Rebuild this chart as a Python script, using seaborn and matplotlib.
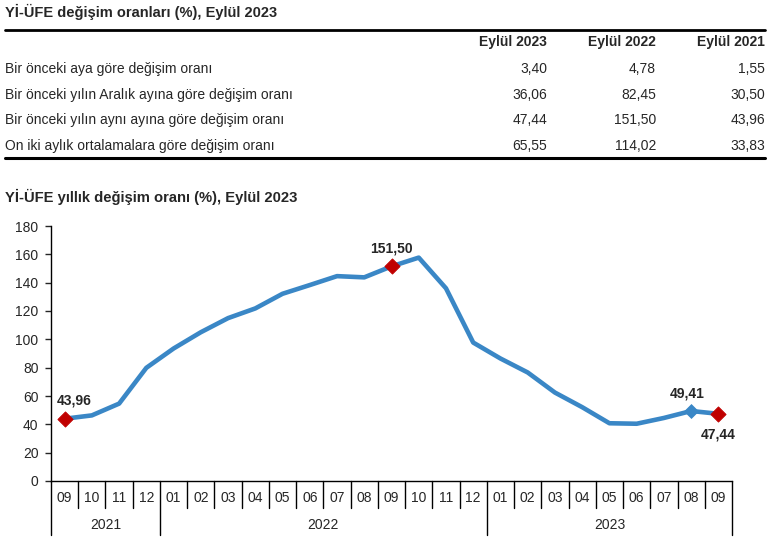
import pandas as pd
import matplotlib.pyplot as plt
from matplotlib.lines import Line2D
from matplotlib.transforms import blended_transform_factory
import seaborn as sns

# ------------------------------
# Data
# ------------------------------
table_cols = ["Eylül 2023", "Eylül 2022", "Eylül 2021"]
table_rows = [
    "Bir önceki aya göre değişim oranı",
    "Bir önceki yılın Aralık ayına göre değişim oranı",
    "Bir önceki yılın aynı ayına göre değişim oranı",
    "On iki aylık ortalamalara göre değişim oranı",
]
table_vals = [
    ["3,40", "4,78", "1,55"],
    ["36,06", "82,45", "30,50"],
    ["47,44", "151,50", "43,96"],
    ["65,55", "114,02", "33,83"],
]

months = ["09", "10", "11", "12",
          "01", "02", "03", "04", "05", "06", "07", "08", "09", "10", "11", "12",
          "01", "02", "03", "04", "05", "06", "07", "08", "09"]
years = ["2021", "2022", "2023"]
year_len = [4, 12, 9]
annual = [43.96, 46.31, 54.62, 79.89,
          93.53, 105.01, 114.97, 121.82, 132.16, 138.31, 144.61, 143.75,
          151.50, 157.69, 136.02, 97.72,
          86.46, 76.61, 62.43, 52.11, 40.76, 40.42, 44.50, 49.41, 47.44]

df = pd.DataFrame({"idx": range(len(annual)), "value": annual})

# ------------------------------
# Style
# ------------------------------
sns.set_style("white")
plt.rcParams["font.family"] = ["Liberation Sans", "DejaVu Sans"]

W, H = 770, 548
fig = plt.figure(figsize=(W / 100, H / 100), dpi=100)


def fx(px):
    return px / W


def fy(py):
    return 1 - py / H


def hline(y, x0, x1, lw, color="black"):
    fig.add_artist(Line2D([fx(x0), fx(x1)], [fy(y), fy(y)], lw=lw, color=color,
                          transform=fig.transFigure))


# ------------------------------
# 1. Table
# ------------------------------
fig.text(fx(5), fy(12), "Yİ-ÜFE değişim oranları (%), Eylül 2023",
         fontsize=10.5, fontweight="bold", va="center", ha="left")
hline(30, 5, 765, 2.0)
col_right = [547, 656, 765]
for c, name in enumerate(table_cols):
    fig.text(fx(col_right[c]), fy(42), name, fontsize=10,
             fontweight="bold", ha="right", va="center")
row_y = [69, 95, 120, 146]
for r, label in enumerate(table_rows):
    fig.text(fx(5), fy(row_y[r]), label, fontsize=10, ha="left", va="center")
    for c in range(3):
        fig.text(fx(col_right[c]), fy(row_y[r]), table_vals[r][c],
                 fontsize=10, ha="right", va="center")
hline(157.5, 5, 765, 2.2)

# ------------------------------
# 2. Line chart
# ------------------------------
fig.text(fx(5), fy(197), "Yİ-ÜFE yıllık değişim oranı (%), Eylül 2023",
         fontsize=10.6, fontweight="bold", ha="left", va="center")

ax_l, ax_r, ax_t, ax_b = 51, 732, 226, 481
ax = fig.add_axes([fx(ax_l), fy(ax_b), fx(ax_r - ax_l), (ax_b - ax_t) / H])

blue = "#3A87C6"
red = "#C00000"
sns.lineplot(data=df, x="idx", y="value", ax=ax, color=blue, lw=3.3)

red_idx = [0, 12, 24]
sns.scatterplot(x=[df.idx[i] for i in red_idx], y=[annual[i] for i in red_idx],
                ax=ax, marker="D", s=60, color=red, edgecolor=red, zorder=5)
sns.scatterplot(x=[df.idx[23]], y=[annual[23]], ax=ax, marker="D", s=50,
                color=blue, edgecolor=blue, zorder=5)

lab_kw = dict(fontsize=10, fontweight="bold", ha="center")
ax.annotate("43,96", (0, annual[0]), xytext=(7, 10), textcoords="offset points", **lab_kw)
ax.annotate("151,50", (12, annual[12]), xytext=(0, 10), textcoords="offset points", **lab_kw)
ax.annotate("49,41", (23, annual[23]), xytext=(-3, 10), textcoords="offset points", **lab_kw)
ax.annotate("47,44", (24, annual[24]), xytext=(0, -18), textcoords="offset points", **lab_kw)

ax.set_xlim(-0.5, len(annual) - 0.5)
ax.set_ylim(0, 180)
ax.set_yticks(range(0, 181, 20))
ax.tick_params(axis="y", left=True, length=4, width=1, labelsize=10, pad=5)
ax.set_xticks([])
ax.set_xlabel("")
ax.set_ylabel("")
for s in ["top", "right"]:
    ax.spines[s].set_visible(False)
for s in ["left", "bottom"]:
    ax.spines[s].set_color("black")
    ax.spines[s].set_linewidth(1)

# category axis: months row and years row
trans = blended_transform_factory(ax.transData, ax.transAxes)
px = 1 / (ax_b - ax_t)
for i, m in enumerate(months):
    ax.text(i, -17 * px, m, transform=trans, ha="center", va="center",
            fontsize=10, clip_on=False)
bounds = [-0.5]
for n in year_len:
    bounds.append(bounds[-1] + n)
for i in range(1, len(months)):
    edge = i - 0.5
    depth = 54 if edge in bounds else 27
    ax.add_line(Line2D([edge, edge], [0, -depth * px], transform=trans,
                       color="black", lw=1, clip_on=False))
for edge in (bounds[0], bounds[-1]):
    ax.add_line(Line2D([edge, edge], [0, -54 * px], transform=trans,
                       color="black", lw=1, clip_on=False))
for k, y in enumerate(years):
    mid = (bounds[k] + bounds[k + 1]) / 2
    ax.text(mid, -44 * px, y, transform=trans, ha="center", va="center",
            fontsize=10, clip_on=False)

fig.savefig("out.png", dpi=100)
